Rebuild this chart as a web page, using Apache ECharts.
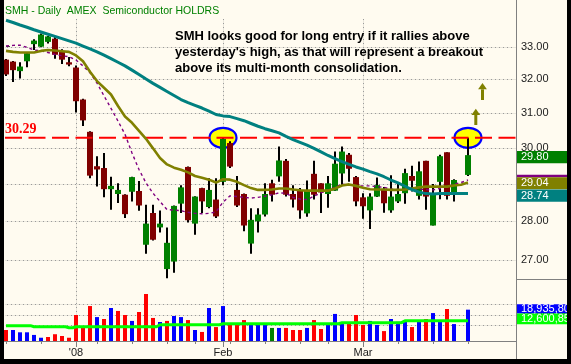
<!DOCTYPE html>
<html><head><meta charset="utf-8">
<script src="https://cdn.jsdelivr.net/npm/echarts@6/dist/echarts.min.js"></script>
<style>html,body{margin:0;padding:0;background:#fffbf0;overflow:hidden}#chart{width:571px;height:364px}</style>
</head><body><div id="chart"></div>
<script>
// ================= DATA =================
const title = 'SMH - Daily  AMEX  Semiconductor HOLDRS';
const noteLines = [
  'SMH looks good for long entry if it rallies above',
  "yesterday's high, as that will represent a breakout",
  'above its multi-month consolidation.'
];
const dates = ['2007-12-17','2007-12-18','2007-12-19','2007-12-20','2007-12-21','2007-12-24','2007-12-26','2007-12-27','2007-12-28','2007-12-31',
 '2008-01-02','2008-01-03','2008-01-04','2008-01-07','2008-01-08','2008-01-09','2008-01-10','2008-01-11','2008-01-14','2008-01-15',
 '2008-01-16','2008-01-17','2008-01-18','2008-01-22','2008-01-23','2008-01-24','2008-01-25','2008-01-28','2008-01-29','2008-01-30',
 '2008-01-31','2008-02-01','2008-02-04','2008-02-05','2008-02-06','2008-02-07','2008-02-08','2008-02-11','2008-02-12','2008-02-13',
 '2008-02-14','2008-02-15','2008-02-19','2008-02-20','2008-02-21','2008-02-22','2008-02-25','2008-02-26','2008-02-27','2008-02-28',
 '2008-02-29','2008-03-03','2008-03-04','2008-03-05','2008-03-06','2008-03-07','2008-03-10','2008-03-11','2008-03-12','2008-03-13',
 '2008-03-14','2008-03-17','2008-03-18','2008-03-19','2008-03-20','2008-03-21','2008-03-24'];
const opens = [32.60,32.54,32.25,32.55,33.08,33.00,33.15,33.25,32.87,32.52, 32.36,31.40,30.46,29.49,29.44,28.86,28.73,28.71,28.79,28.81,
 27.39,28.22,27.84,26.77,26.96,28.47,29.47,27.94,28.89,28.38, 28.58,29.06,30.14,28.84,28.73,27.42,28.00,28.18,29.02,29.21,
 29.64,28.73,28.84,28.21,29.28,29.02,28.73,28.82,29.29,29.81, 29.19,28.64,28.29,28.66,28.86,28.29,28.53,28.75,29.22,28.68,
 29.64,27.89,29.06,29.88,28.75,null,29.25];
const highs = [32.62,32.56,32.52,32.83,33.23,33.41,33.33,33.30,32.92,32.68, 32.42,31.42,30.48,29.77,29.86,29.20,29.02,28.72,29.20,29.08,
 28.44,28.44,28.29,27.84,28.42,28.97,29.48,28.67,28.90,29.16, 29.16,30.29,30.19,29.22,28.74,28.35,28.35,29.02,29.12,30.04,
 29.69,28.97,28.89,29.10,29.64,29.02,29.22,29.90,30.04,29.86, 29.22,28.75,28.75,29.18,28.92,29.24,29.05,29.42,29.50,29.62,
 29.64,29.00,29.81,29.88,29.13,null,30.29];
const lows = [32.10,31.92,32.03,32.37,32.90,32.98,33.10,32.63,32.47,32.40, 31.02,30.63,29.16,28.93,28.64,28.31,28.49,28.09,28.53,28.28,
 27.16,27.50,27.71,26.54,26.68,28.22,27.97,27.65,28.22,28.35, 28.09,28.97,29.44,28.38,27.74,27.16,27.71,28.13,28.53,29.06,
 28.66,28.37,28.07,28.12,28.58,28.22,28.36,28.82,28.97,29.06, 28.40,28.07,27.80,28.65,28.23,28.23,28.49,28.47,28.80,28.58,
 28.31,27.89,28.59,28.58,28.53,null,29.22];
const closes = [32.15,32.28,32.39,32.80,33.19,33.38,33.32,32.75,32.60,32.45, 31.35,30.79,29.23,29.40,28.86,28.95,28.84,28.19,29.19,28.42,
 27.94,27.52,27.94,27.44,28.41,28.91,28.03,28.66,28.53,28.84, 28.13,30.26,29.48,28.42,27.89,28.04,28.18,28.73,28.71,29.65,
 28.71,28.58,28.29,28.82,28.71,28.77,29.02,29.56,29.90,29.42, 28.53,28.40,28.66,28.97,28.48,28.66,28.73,29.30,29.09,29.35,
 28.66,28.71,29.77,28.68,29.11,null,29.80];
// 50-day (teal), 20-day (olive), 10-day (purple dashed) moving averages
const ma50 = [33.83,33.76,33.68,33.61,33.53,33.46,33.39,33.32,33.25,33.18, 33.11,33.02,32.93,32.84,32.74,32.63,32.52,32.41,32.28,32.15,
 32.01,31.88,31.76,31.64,31.52,31.40,31.31,31.23,31.15,31.06, 30.96,30.92,30.90,30.84,30.78,30.70,30.62,30.55,30.49,30.43,
 30.33,30.24,30.16,30.08,29.99,29.89,29.79,29.70,29.62,29.54, 29.47,29.41,29.34,29.28,29.20,29.11,29.03,28.94,28.85,28.78,
 28.74,28.73,28.74,28.74,28.74,28.74,28.74];
const ma20 = [32.87,32.84,32.82,32.82,32.82,32.87,32.90,32.88,32.86,32.84, 32.73,32.55,32.23,31.95,31.75,31.55,31.21,30.90,30.72,30.49,
 30.26,29.99,29.72,29.54,29.45,29.39,29.32,29.22,29.17,29.12, 29.04,29.13,29.12,29.06,28.97,28.89,28.84,28.84,28.85,28.88,
 28.88,28.85,28.83,28.82,28.82,28.82,28.82,28.88,28.96,28.99, 28.95,28.90,28.86,28.85,28.85,28.84,28.84,28.85,28.88,28.91,
 28.93,28.93,28.93,28.93,28.96,28.98,29.04];
const ma10 = [33.02,33.04,33.05,32.98,32.90,32.87,32.82,32.76,32.72,32.69, 32.59,32.41,32.20,31.89,31.51,31.14,30.77,30.39,29.86,29.40,
 29.03,28.75,28.53,28.31,28.30,28.28,28.24,28.21,28.20,28.21, 28.25,28.51,28.68,28.66,28.64,28.62,28.64,28.67,28.71,28.76,
 28.75,28.64,28.59,28.58,28.67,28.76,28.84,28.91,29.00,28.97, 28.95,28.95,28.95,28.93,28.91,28.86,28.85,28.86,28.87,28.86,
 28.85,28.84,28.88,28.93,28.99,29.04,29.11];
const volumes = [7300000,7300000,6000000,6000000,4500000,2900000,3300000,4900000,3900000,2900000,
 15900000,9200000,21000000,14700000,13600000,19900000,18200000,15900000,12500000,17600000,
 27900000,14200000,11900000,12500000,15300000,14700000,13000000,7300000,6200000,19900000,
 9000000,21000000,10700000,10200000,13000000,11300000,10200000,11300000,8500000,8500000,
 8500000,7300000,7300000,8500000,13000000,7900000,11300000,16500000,11300000,11900000,
 15900000,10200000,12500000,10200000,6700000,13600000,12000000,12000000,9000000,13000000,
 13600000,17000000,12100000,19300000,10700000,null,18935800];
// u = up day, d = down day, n = unchanged
const volDir = ['d','u','u','u','u','u','d','d','d','d', 'd','d','d','u','d','u','d','d','u','d',
 'd','d','u','d','u','u','d','u','d','u', 'd','u','d','d','d','u','u','u','n','u',
 'd','d','d','u','d','d','u','u','u','d', 'd','d','u','u','d','u','u','u','d','u',
 'd','u','u','d','u',null,'u'];
const volAvg = [9800000,9800000,9800000,9800000,9200000,9200000,9200000,9200000,9200000,8600000,
 9200000,9200000,9200000,9200000,9200000,9200000,9200000,9200000,9200000,9200000,
 9200000,9200000,10300000,10300000,10300000,10300000,10300000,10300000,10300000,10300000,
 10300000,10900000,10900000,10900000,10900000,10900000,10900000,10900000,10900000,10900000,
 10900000,10900000,10900000,10900000,10900000,10900000,10900000,10900000,11500000,11500000,
 11500000,11500000,11500000,11500000,11500000,11500000,11500000,12600850,12600850,12600850,
 12600850,12600850,12600850,12600850,12600850,12600850,12600850];
const weekTicks = [0,5,10,13,18,23,27,31,32,37,42,46,51,56,61,66];
const monthTicks = [10,31,51];
const monthLabels = ["'08",'Feb','Mar'];
const priceTicks = [27,28,29,30,31,32,33];
const volTicks = [10000000,16000000,22000000];
const keyLevel = 30.29;
const highlightIdx = [31,66];

// ================= LAYOUT =================
const LN = Math.log;
const PLOT_L = 2.5, PLOT_R = 516, SLOT = 7;
const XMIN = -0.5, XMAX = XMIN + (PLOT_R - PLOT_L) / SLOT;
const P_TOP = 18, P_BOT = 279;
const PX_PER_LN = 1062.9, REF_PRICE = 33, REF_Y = 46.7;
const YMIN = LN(REF_PRICE) - (P_BOT - REF_Y) / PX_PER_LN;
const YMAX = LN(REF_PRICE) + (REF_Y - P_TOP) / PX_PER_LN;
const V_TOP = 279, V_BOT = 341, V_PER_PX = 571400, V_REF = 22000000, V_REF_Y = 304.3;
const VMAX = V_REF + (V_REF_Y - V_TOP) * V_PER_PX;
const VMIN = V_REF - (V_BOT - V_REF_Y) * V_PER_PX;
const FONT = 'Liberation Sans';
const DOT_COLOR = '#9a9a9a', GRID_TINT = '#e9e6dc';
const VOL_COLORS = {u: '#0000ff', d: '#ff0000', n: '#008000'};

const chart = echarts.init(document.getElementById('chart'), null, {renderer: 'canvas'});

const candleData = [];
dates.forEach((d, i) => {
  if (opens[i] != null) candleData.push([i, LN(opens[i]), LN(closes[i]), LN(lows[i]), LN(highs[i])]);
});
const toLnSeries = arr => arr.map((v, i) => [i, LN(v)]);
const volData = [];
volumes.forEach((v, i) => { if (v != null) volData.push({value: [i, v], itemStyle: {color: VOL_COLORS[volDir[i]]}}); });

function renderCandle(params, api) {
  const i = api.value(0);
  const o = api.coord([i, api.value(1)]), c = api.coord([i, api.value(2)]);
  const l = api.coord([i, api.value(3)]), h = api.coord([i, api.value(4)]);
  const x = Math.round(o[0]);
  const up = api.value(2) >= api.value(1);
  const top = Math.min(o[1], c[1]), bot = Math.max(o[1], c[1]);
  return {type: 'group', children: [
    {type: 'rect', shape: {x: x - 1, y: h[1], width: 2, height: l[1] - h[1]}, style: {fill: '#000000'}},
    {type: 'rect', shape: {x: x - 3, y: top, width: 6, height: Math.max(1.5, bot - top)}, style: {fill: up ? '#008000' : '#800000'}}
  ]};
}
function renderEllipse(params, api) {
  const p = api.coord([api.value(0), api.value(1)]);
  return {type: 'ellipse', shape: {cx: p[0], cy: p[1], rx: 13.5, ry: 10}, style: {fill: '#ffff00', stroke: '#0000ff', lineWidth: 2.2}};
}

const xBase = {type: 'value', min: XMIN, max: XMAX};
chart.setOption({
  animation: false,
  backgroundColor: '#fffbf0',
  grid: [
    {left: PLOT_L, top: P_TOP, width: PLOT_R - PLOT_L, height: P_BOT - P_TOP, outerBoundsMode: 'none'},
    {left: PLOT_L, top: V_TOP, width: PLOT_R - PLOT_L, height: V_BOT - V_TOP, outerBoundsMode: 'none'}
  ],
  xAxis: [
    Object.assign({gridIndex: 0, show: false}, xBase),
    Object.assign({gridIndex: 1, position: 'bottom', axisLine: {show: true, lineStyle: {color: '#808080', width: 1}},
      axisTick: {show: true, customValues: weekTicks, length: 3, lineStyle: {color: '#808080'}},
      axisLabel: {show: true, customValues: monthTicks, margin: 6, fontSize: 11, fontFamily: FONT, color: '#202020',
        formatter: v => monthLabels[monthTicks.indexOf(Math.round(v))]},
      splitLine: {show: false}}, xBase),
    Object.assign({gridIndex: 1, position: 'bottom', offset: 0, axisLine: {show: false},
      axisTick: {show: true, customValues: monthTicks, length: 6, lineStyle: {color: '#808080'}},
      axisLabel: {show: false}, splitLine: {show: false}}, xBase)
  ],
  yAxis: [
    {gridIndex: 0, type: 'value', position: 'right', min: YMIN, max: YMAX,
      axisLine: {show: false},
      axisTick: {show: true, customValues: priceTicks.map(LN), length: 4, lineStyle: {color: '#404040'}},
      axisLabel: {show: true, customValues: priceTicks.map(LN), margin: 5, fontSize: 11, fontFamily: FONT, color: '#202020',
        formatter: v => Math.exp(v).toFixed(2)},
      splitLine: {show: false}},
    {gridIndex: 1, type: 'value', position: 'right', min: VMIN, max: VMAX,
      axisLine: {show: false},
      axisTick: {show: true, customValues: volTicks, length: 4, lineStyle: {color: '#404040'}},
      axisLabel: {show: true, customValues: volTicks, margin: 5, fontSize: 11, fontFamily: FONT, color: '#202020',
        formatter: v => Math.round(v).toLocaleString('en-US')},
      splitLine: {show: false}}
  ],
  series: [
    {type: 'custom', name: 'highlight', xAxisIndex: 0, yAxisIndex: 0, z: 2, clip: true,
      data: highlightIdx.map(i => [i, LN(keyLevel)]), renderItem: renderEllipse},
    {type: 'custom', name: 'SMH', xAxisIndex: 0, yAxisIndex: 0, z: 3, clip: true,
      data: candleData, encode: {x: 0, y: [1, 2, 3, 4]}, renderItem: renderCandle},
    {type: 'line', name: 'level', xAxisIndex: 0, yAxisIndex: 0, z: 4, symbol: 'none',
      data: [[XMIN, LN(keyLevel)], [XMAX, LN(keyLevel)]],
      lineStyle: {color: '#ff0000', width: 2, type: [17, 6.5], dashOffset: 21}},
    {type: 'line', name: 'MA10', xAxisIndex: 0, yAxisIndex: 0, z: 5, symbol: 'none', clip: true,
      data: toLnSeries(ma10), lineStyle: {color: '#800080', width: 1.4, type: [3, 3]}},
    {type: 'line', name: 'MA20', xAxisIndex: 0, yAxisIndex: 0, z: 6, symbol: 'none', clip: true,
      data: toLnSeries(ma20), lineStyle: {color: '#808000', width: 2.6}},
    {type: 'line', name: 'MA50', xAxisIndex: 0, yAxisIndex: 0, z: 7, symbol: 'none', clip: true,
      data: toLnSeries(ma50), lineStyle: {color: '#008080', width: 3}},
    {type: 'bar', name: 'Volume', xAxisIndex: 1, yAxisIndex: 1, z: 3, barWidth: 4, clip: true, data: volData},
    {type: 'line', name: 'VolAvg', xAxisIndex: 1, yAxisIndex: 1, z: 4, symbol: 'none', step: 'middle',
      data: volAvg.map((v, i) => [i, v]), lineStyle: {color: '#00ff00', width: 3}}
  ]
});

// ============ dotted grid (positions from the axes via convertToPixel) ============
const px = (xi, yi, pt) => chart.convertToPixel({xAxisIndex: xi, yAxisIndex: yi}, pt);
const gridEls = [];
function hGrid(y) {
  gridEls.push({type: 'line', z: 1, silent: true, shape: {x1: 5, y1: y + 0.5, x2: PLOT_R, y2: y + 0.5}, style: {stroke: GRID_TINT, lineWidth: 1}});
  for (let x = 7; x < PLOT_R - 1; x += 4) gridEls.push({type: 'rect', z: 1, silent: true, shape: {x: x, y: y, width: 1, height: 1}, style: {fill: DOT_COLOR}});
}
function vGrid(x, y1, y2) {
  gridEls.push({type: 'line', z: 1, silent: true, shape: {x1: x + 0.5, y1: y1, x2: x + 0.5, y2: y2}, style: {stroke: GRID_TINT, lineWidth: 1}});
  for (let y = y1; y < y2; y += 4) gridEls.push({type: 'rect', z: 1, silent: true, shape: {x: x, y: y, width: 1, height: 1}, style: {fill: DOT_COLOR}});
}
priceTicks.forEach(p => hGrid(Math.round(px(0, 0, [0, LN(p)])[1])));
volTicks.forEach(v => hGrid(Math.round(px(1, 1, [0, v])[1])));
monthTicks.forEach(i => vGrid(Math.round(px(0, 0, [i, YMIN])[0]), P_TOP + 1, V_BOT - 1));

// ============ annotations / overlays ============
const levelY = px(0, 0, [0, LN(keyLevel)])[1];
const last = dates.length - 1;
const tagX = 517, tagW = 50;
function tag(y, h, color, text) {
  const els = [{type: 'rect', shape: {x: tagX, y: y, width: tagW, height: h}, style: {fill: color}, z: 100}];
  if (text) els.push({type: 'text', x: tagX + 4, y: y + h / 2, z: 101,
    style: {text: text, fill: '#ffffff', font: '11px "' + FONT + '"', verticalAlign: 'middle', align: 'left'}});
  return els;
}
const overlay = [
  {type: 'text', x: 5, y: 11.5, z: 100, style: {text: title, fill: '#008000', font: '10.5px "' + FONT + '"', verticalAlign: 'middle'}},
  {type: 'text', x: 175, y: 28, z: 100, style: {text: noteLines.join('\n'), fill: '#000000', font: 'bold 13px "' + FONT + '"', lineHeight: 16.3, verticalAlign: 'top'}},
  {type: 'text', x: 5, y: levelY - 1.5, z: 100, style: {text: keyLevel.toFixed(2), fill: '#ff0000', font: 'bold 14px "Liberation Serif"', verticalAlign: 'bottom'}},
  // arrows
  {type: 'polygon', z: 100, shape: {points: [[475.8, 108.8], [480.2, 115], [471.4, 115]]}, style: {fill: '#808000'}},
  {type: 'rect', z: 100, shape: {x: 474.3, y: 115, width: 3, height: 10}, style: {fill: '#808000'}},
  {type: 'polygon', z: 100, shape: {points: [[482.5, 83], [486.9, 89.3], [478.1, 89.3]]}, style: {fill: '#808000'}},
  {type: 'rect', z: 100, shape: {x: 481, y: 89.3, width: 3, height: 10.7}, style: {fill: '#808000'}},
  // axis frame lines
  {type: 'line', z: 90, shape: {x1: 516.5, y1: 0, x2: 516.5, y2: 359}, style: {stroke: '#808080', lineWidth: 1}},
  {type: 'line', z: 90, shape: {x1: 516, y1: 279.5, x2: 567, y2: 279.5}, style: {stroke: '#808080', lineWidth: 1}},
  // last value tags
  ...tag(151, 12.3, '#008000', closes[last].toFixed(2)),
  ...tag(174.7, 2.6, '#800080', ''),
  ...tag(177.3, 11.9, '#808000', ma20[last].toFixed(2)),
  ...tag(189.5, 12.2, '#008080', ma50[last].toFixed(2)),
  ...tag(304.3, 9.3, '#0000ff', volumes[last].toLocaleString('en-US')),
  ...tag(313.6, 10.6, '#00ff00', volAvg[last].toLocaleString('en-US')),
  // black frame
  {type: 'rect', z: 200, shape: {x: 0, y: 0, width: 4, height: 364}, style: {fill: '#000000'}},
  {type: 'rect', z: 200, shape: {x: 567, y: 0, width: 4, height: 364}, style: {fill: '#000000'}},
  {type: 'rect', z: 200, shape: {x: 0, y: 359, width: 571, height: 5}, style: {fill: '#000000'}}
];
chart.setOption({graphic: gridEls.concat(overlay)});
</script></body></html>
